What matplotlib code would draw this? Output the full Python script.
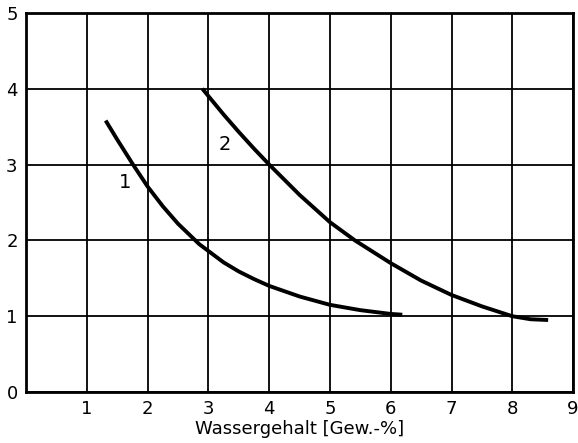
import matplotlib.pyplot as plt

# =========================
# DATA
# =========================
x1 = [1.31, 1.5, 1.76, 2.0, 2.25, 2.5, 2.85, 3.0, 3.25, 3.5, 3.75, 4.0,
      4.5, 5.0, 5.5, 6.0, 6.19]
y1 = [3.58, 3.33, 3.0, 2.71, 2.45, 2.22, 1.95, 1.86, 1.71, 1.59, 1.49, 1.40,
      1.26, 1.15, 1.08, 1.03, 1.02]

x2 = [2.9, 3.25, 3.5, 3.75, 4.0, 4.5, 5.0, 5.41, 6.0, 6.5, 7.0, 7.5, 8.0,
      8.3, 8.59]
y2 = [4.0, 3.66, 3.43, 3.21, 3.0, 2.60, 2.24, 2.0, 1.70, 1.47, 1.28, 1.13,
      1.0, 0.96, 0.95]

xticks = [1, 2, 3, 4, 5, 6, 7, 8, 9]
yticks = [0, 1, 2, 3, 4, 5]

# =========================
# PLOT
# =========================
fig = plt.figure(figsize=(5.78, 4.43), dpi=100)
ax = fig.add_axes([0.045, 0.115, 0.9465, 0.856])

ax.plot(x1, y1, color="black", lw=2.8, solid_capstyle="butt",
        solid_joinstyle="round")
ax.plot(x2, y2, color="black", lw=2.8, solid_capstyle="butt",
        solid_joinstyle="round")

ax.text(1.63, 2.76, "1", fontsize=14, ha="center", va="center")
ax.text(3.27, 3.27, "2", fontsize=14, ha="center", va="center")

ax.set_xlim(0, 9)
ax.set_ylim(0, 5)
ax.set_xticks(xticks)
ax.set_yticks(yticks)
ax.grid(True, color="black", lw=1.3)
ax.tick_params(length=0, labelsize=13, pad=6)
for s in ax.spines.values():
    s.set_linewidth(2)

ax.set_xlabel("Wassergehalt [Gew.-%]", fontsize=13, labelpad=1)

fig.savefig("out.png", dpi=100)
